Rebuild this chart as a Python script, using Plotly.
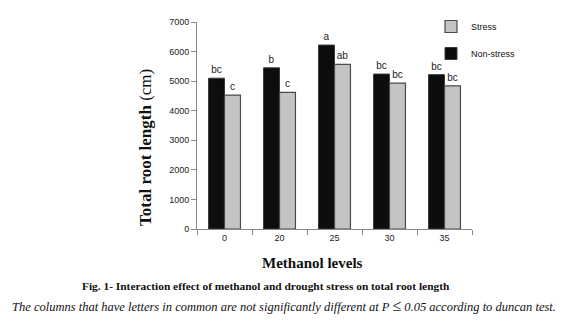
import plotly.graph_objects as go

levels = ["0", "20", "25", "30", "35"]
non_stress = [5100, 5450, 6220, 5240, 5220]
stress = [4530, 4620, 5570, 4930, 4840]
non_stress_letters = ["bc", "b", "a", "bc", "bc"]
stress_letters = ["c", "c", "ab", "bc", "bc"]

serif = "Liberation Serif, Times New Roman, serif"
sans = "Liberation Sans Narrow, Arial Narrow, Liberation Sans, sans-serif"

W_PLOT = 275.0
H_PLOT = 207.0
L = 197.0
B = 229.0


def px_x(p):
    return (p - L) / W_PLOT


def px_y(p):
    return (B - p) / H_PLOT


fig = go.Figure()
fig.add_trace(go.Bar(
    x=levels, y=non_stress, name="Non-stress", text=non_stress_letters,
    textposition="outside", textfont=dict(size=10, color="#222", family=sans),
    marker=dict(color="#0d0d0d", line=dict(color="#3a3a3a", width=1)),
    legendgroup="ns", legendrank=2, cliponaxis=False,
))
fig.add_trace(go.Bar(
    x=levels, y=stress, name="Stress", text=stress_letters,
    textposition="outside", textfont=dict(size=10, color="#222", family=sans),
    marker=dict(color="#c4c4c4", line=dict(color="#4a4a4a", width=1.2)),
    legendgroup="s", legendrank=1, cliponaxis=False,
))

fig.update_layout(
    width=576, height=325,
    margin=dict(l=197, r=104, t=22, b=96),
    paper_bgcolor="white", plot_bgcolor="white",
    barmode="group", bargap=0.42, bargroupgap=0.0,
    font=dict(family=sans, size=9, color="#222"),
    showlegend=True,
    legend=dict(x=px_x(431), y=px_y(12), xanchor="left", yanchor="top",
                traceorder="grouped", tracegroupgap=8,
                font=dict(size=9, family=sans, color="#111"),
                itemwidth=30, bgcolor="rgba(0,0,0,0)"),
)
fig.update_yaxes(
    range=[0, 7000], dtick=1000, showgrid=False, showline=True,
    linecolor="#888", linewidth=1, ticks="outside", ticklen=5, tickcolor="#888",
    tickfont=dict(size=9, family=sans, color="#222"), zeroline=False,
)
fig.update_xaxes(
    showline=True, linecolor="#888", linewidth=1, ticks="outside",
    tickson="boundaries", ticklen=5, tickcolor="#888",
    tickfont=dict(size=9, family=sans, color="#222"),
)

fig.add_annotation(
    text="<b>Total root length</b> (cm)", textangle=-90,
    xref="paper", yref="paper", x=px_x(145), y=px_y(148), xanchor="center", yanchor="middle",
    showarrow=False, font=dict(family=serif, size=17, color="#111"),
)
fig.add_annotation(
    text="<b>Methanol levels</b>", xref="paper", yref="paper",
    x=px_x(312), y=px_y(263), xanchor="center", yanchor="middle",
    showarrow=False, font=dict(family=serif, size=15, color="#111"),
)
fig.add_annotation(
    text="<b>Fig. 1- Interaction effect of methanol and drought stress on total root length</b>",
    xref="paper", yref="paper", x=px_x(266), y=px_y(286), xanchor="center", yanchor="middle",
    showarrow=False, font=dict(family=serif, size=11.4, color="#111"),
)
fig.add_annotation(
    text="<i>The columns that have letters in common are not significantly different at P </i>"
         "<span style='font-size:16px'>≤</span><i> 0.05 according to duncan test.</i>",
    xref="paper", yref="paper", x=px_x(284), y=px_y(305), xanchor="center", yanchor="middle",
    showarrow=False, font=dict(family=serif, size=12.5, color="#111"),
)

fig.write_html("out.html")
